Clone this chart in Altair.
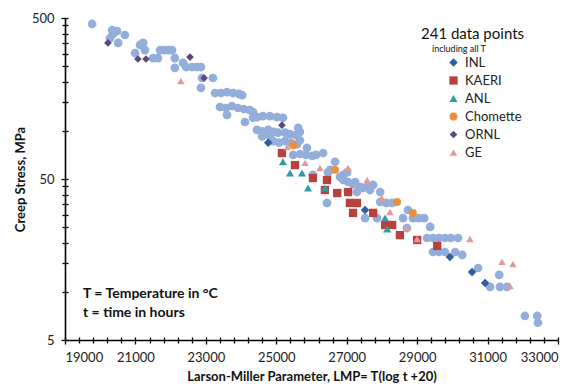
import altair as alt
import pandas as pd

# Series names, colours and marker shapes ("all" = full data set, no legend entry)
SERIES = ["all", "INL", "KAERI", "ANL", "Chomette", "ORNL", "GE"]
LEGEND_SERIES = SERIES[1:]
COLORS = ["#93AEDA", "#2F5F9E", "#BA403E", "#2E9EA4", "#EC8E3C", "#5C4780", "#E29A98"]
SHAPES = ["circle", "diamond", "square", "triangle-up", "circle", "diamond", "triangle-up"]
SIZES = [76, 55, 82, 82, 70, 55, 82]

# Larson-Miller parameter and creep stress (MPa) per series
all_lmp = [19770, 20340, 20480, 20360, 20280, 20700, 20510, 21130, 21220, 20990,
           21270, 21500, 21640, 21700, 21810, 21930, 22040, 22120, 22120, 22350,
           22440, 22610, 22750, 22860, 22890, 23200, 22860, 23260, 23430, 23600,
           23770, 23940, 24030, 23400, 23570, 23740, 23910, 24080, 24250, 24340,
           23600, 24110, 24340, 24450, 24620, 24820, 25020, 25190, 24450, 24600,
           24770, 24910, 25050, 25250, 25390, 25560, 25670, 25620, 24600, 24820,
           24910, 25080, 25250, 25420, 25590, 25670, 25870, 25670, 25840, 26020,
           26130, 26330, 25480, 26670, 26470, 27010, 26810, 27240, 26900, 26530,
           26040, 26440, 26900, 27040, 27180, 27380, 27290, 27580, 27750, 27950,
           27460, 27660, 27950, 28120, 28290, 28740, 28600, 28880, 29050, 29200,
           27520, 27860, 29370, 28710, 29280, 29450, 29620, 29790, 29960, 30160,
           29450, 29620, 29790, 30080, 30280, 30730, 31330, 31070, 31350, 31550,
           32060, 32410, 32430]
all_mpa = [459, 421, 415, 398, 375, 392, 350, 340, 350, 303,
           316, 282, 282, 316, 316, 316, 316, 282, 245, 263,
           248, 248, 248, 248, 212, 212, 184, 171, 171, 173,
           171, 169, 166, 140, 138, 142, 138, 136, 134, 130,
           125, 113, 120, 121, 123, 123, 121, 120, 101, 99,
           101, 98, 97, 97, 95, 94, 98, 104, 92, 92,
           86, 84, 86, 84, 82, 87, 78, 71.5, 70.5, 69.5,
           70.5, 72.5, 70.5, 64, 55, 55, 51.5, 47.9, 53, 57,
           53, 35.5, 49.3, 47.9, 46.5, 44.6, 41.5, 44.6, 45.9, 41.5,
           44, 42.7, 36, 35.5, 35.5, 32.1, 28.6, 28.6, 28.6, 28.6,
           28.6, 28.6, 25.2, 24.8, 21.5, 21.5, 21.5, 21.5, 21.5, 21.5,
           17.6, 17.6, 17.6, 17.6, 16.9, 14.0, 12.7, 10.7, 10.7, 10.7,
           7.05, 7.05, 6.4]

inl_lmp = [24770, 27520, 29930, 30560, 30930]
inl_mpa = [84, 32.1, 16.4, 13.2, 11.3]

kaeri_lmp = [25160, 25530, 26040, 26440, 26380, 26730, 27040, 27090, 27290, 27180,
             27750, 28090, 28290, 28510, 29000, 29570]
kaeri_mpa = [72.5, 61, 50.7, 49.3, 42.7, 40.9, 41.5, 35.5, 35.5, 30.8,
             30.8, 25.9, 25.9, 22.4, 20.9, 19.2]

anl_lmp = [25190, 25390, 25730, 25900, 26380, 28090, 28150]
anl_mpa = [64, 54.5, 54.5, 44, 44, 28.6, 24.5]

chomette_lmp = [25480, 26670, 28430, 28880]
chomette_mpa = [81, 57, 36, 30.8]

ornl_lmp = [20220, 21070, 21300, 22550, 22950, 25160]
ornl_mpa = [350, 278, 278, 286, 212, 108]

ge_lmp = [22290, 25310, 25820, 26240, 27040, 27580, 28000, 28230, 28710, 29000,
          30500, 31410, 31720, 31640]
ge_mpa = [203, 79, 63, 58.5, 58.5, 49.3, 38.1, 31.2, 24.8, 21.2,
          21.2, 15.3, 14.8, 10.8]

# Axis ticks
X_MAJOR = [19000, 21000, 23000, 25000, 27000, 29000, 31000, 33000]
X_MINOR = [v for v in range(19000, 33001, 400) if (v - 19000) % 2000 != 0]
Y_MAJOR = [5, 50, 500]
Y_MINOR = [10, 15, 20, 25, 30, 35, 40, 45, 100, 150, 200, 250, 300, 350, 400, 450]

frames = []
for name, xs_, ys_ in [("all", all_lmp, all_mpa), ("INL", inl_lmp, inl_mpa),
                       ("KAERI", kaeri_lmp, kaeri_mpa), ("ANL", anl_lmp, anl_mpa),
                       ("Chomette", chomette_lmp, chomette_mpa),
                       ("ORNL", ornl_lmp, ornl_mpa), ("GE", ge_lmp, ge_mpa)]:
    frames.append(pd.DataFrame({"series": name, "lmp": xs_, "mpa": ys_}))
df = pd.concat(frames, ignore_index=True)

FONT = "Lato"
W, H = 493, 322
x_scale = alt.Scale(domain=[19000, 33000], nice=False, zero=False)
y_scale = alt.Scale(type="log", domain=[5, 500], nice=False)

legend = alt.Legend(values=LEGEND_SERIES, title=None, orient="none",
                    legendX=382, legendY=38, labelFontSize=13, labelFont=FONT,
                    labelColor="#222", symbolSize=40, rowPadding=4,
                    labelOffset=5, padding=0)

points = alt.Chart(df).mark_point(filled=True, opacity=1, strokeWidth=0).encode(
    x=alt.X("lmp:Q", scale=x_scale,
            axis=alt.Axis(values=X_MAJOR, format="d", orient="bottom",
                          title="Larson-Miller Parameter, LMP= T(log t +20)",
                          tickSize=4, labelPadding=7, titlePadding=6)),
    y=alt.Y("mpa:Q", scale=y_scale,
            axis=alt.Axis(values=Y_MAJOR, format="d", orient="left",
                          title="Creep Stress, MPa",
                          tickSize=4, labelPadding=7, titlePadding=4)),
    color=alt.Color("series:N", scale=alt.Scale(domain=SERIES, range=COLORS), legend=legend),
    shape=alt.Shape("series:N", scale=alt.Scale(domain=SERIES, range=SHAPES), legend=legend),
    size=alt.Size("series:N", scale=alt.Scale(domain=SERIES, range=SIZES), legend=None),
)

# Minor ticks outside the axis line
minor_out = alt.Chart(df).mark_point(opacity=0).encode(
    x=alt.X("lmp:Q", scale=x_scale,
            axis=alt.Axis(values=X_MINOR, labels=False, domain=False, tickSize=3,
                          title=None, orient="bottom")),
    y=alt.Y("mpa:Q", scale=y_scale,
            axis=alt.Axis(values=Y_MINOR, labels=False, domain=False, tickSize=3,
                          title=None, orient="left")),
)

# Tick halves inside the axis line (ticks cross the axis)
ticks_in = alt.Chart(df).mark_point(opacity=0).encode(
    x=alt.X("lmp:Q", scale=x_scale,
            axis=alt.Axis(values=X_MAJOR + X_MINOR, labels=False, domain=False,
                          tickSize=3, offset=-3, title=None, orient="bottom")),
    y=alt.Y("mpa:Q", scale=y_scale,
            axis=alt.Axis(values=Y_MAJOR + Y_MINOR, labels=False, domain=False,
                          tickSize=3, offset=-3, title=None, orient="left")),
)

notes = pd.DataFrame({
    "text": ["241 data points", "including all T", "T = Temperature in °C", "t = time in hours"],
    "px": [356, 367, 18, 18],
    "py": [16, 30.5, 276, 295],
    "fs": [15, 9, 14, 14],
    "fw": ["normal", "normal", "bold", "bold"],
})

def note(i):
    r = notes.iloc[i]
    return alt.Chart(notes.iloc[[i]]).mark_text(
        align="left", baseline="middle", font=FONT, fontSize=float(r["fs"]),
        fontWeight=r["fw"], color="#111"
    ).encode(x=alt.value(float(r["px"])), y=alt.value(float(r["py"])), text="text:N")

chart = alt.layer(
    points, minor_out, ticks_in, note(0), note(1), note(2), note(3)
).resolve_axis(
    x="independent", y="independent"
).properties(
    width=W, height=H,
    padding={"left": 65, "top": 18, "right": 28, "bottom": 47},
    autosize=alt.AutoSizeParams(type="none"),
    background="white",
).configure_view(
    stroke=None
).configure_axis(
    grid=False, domainColor="black", tickColor="black", domainWidth=1.6,
    tickWidth=1.3, labelFont=FONT, labelFontSize=13, labelColor="#222",
    titleFont=FONT, titleFontSize=13, titleFontWeight="bold", titleColor="#111",
)

chart.save("out.html", embed_options={"renderer": "svg", "actions": False})
